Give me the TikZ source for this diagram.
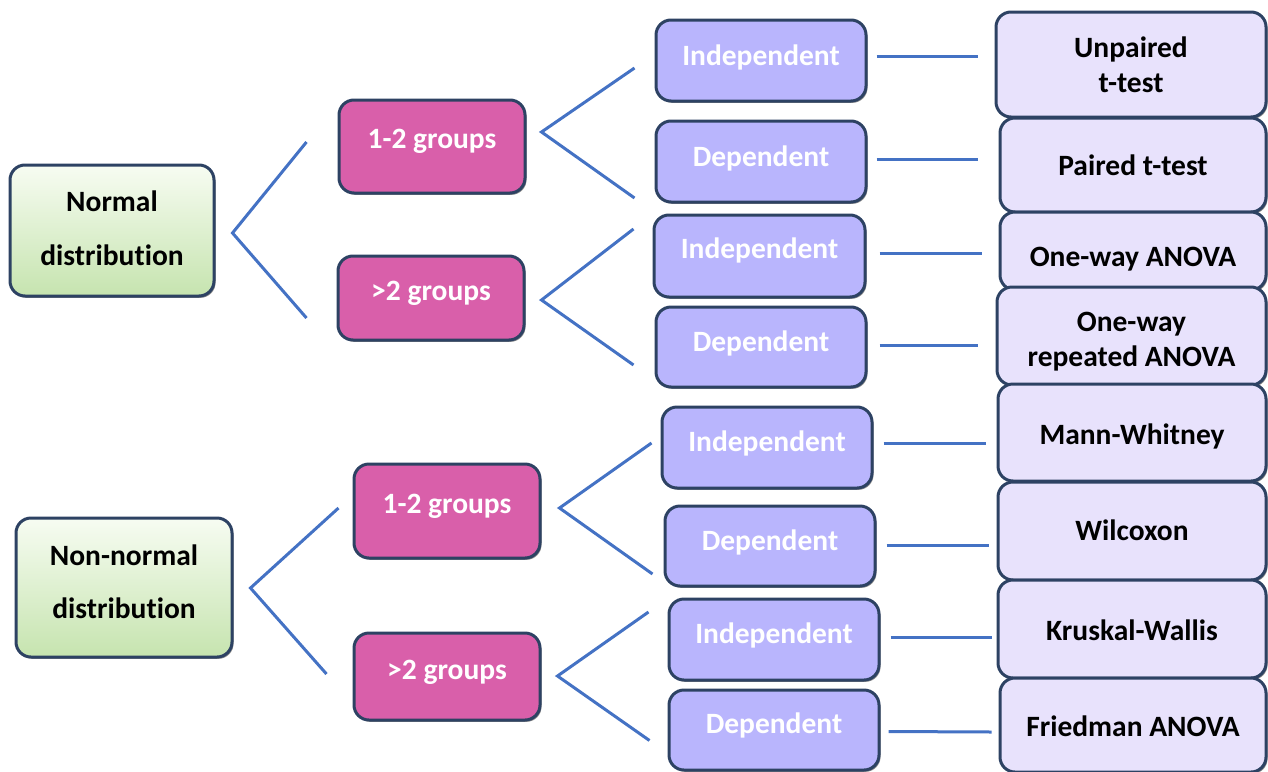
\documentclass[tikz,border=0pt]{standalone}
\usepackage{fontspec}
\setmainfont{Carlito}[Ligatures=NoCommon]
\usetikzlibrary{calc,shadows}
\definecolor{bordc}{HTML}{2D4263}
\definecolor{greentop}{HTML}{F7FCF2}
\definecolor{greenbot}{HTML}{C6E4AF}
\definecolor{pinkc}{HTML}{D95FAA}
\definecolor{purplec}{HTML}{B9B5FD}
\definecolor{lavc}{HTML}{E8E2FC}
\definecolor{linec}{HTML}{4472C4}
\tikzset{
  boxbase/.style={draw=bordc, line width=3pt, rounded corners=15pt, inner sep=0pt,
    drop shadow={shadow xshift=1.5pt, shadow yshift=-1.8pt, opacity=0.45, fill=black}},
  greenbox/.style={boxbase, top color=greentop, bottom color=greenbot},
  pinkbox/.style={boxbase, fill=pinkc},
  purplebox/.style={boxbase, fill=purplec},
  lavbox/.style={boxbase, fill=lavc},
  darktext/.style={anchor=base, inner sep=0pt, align=center, text=black,
    font=\fontsize{29.5}{35.5}\selectfont\bfseries},
  lighttext/.style={anchor=base, inner sep=0pt, align=center, text=white,
    font=\fontsize{29.5}{35.5}\selectfont\bfseries},
  link/.style={draw=linec, line width=3pt}
}
\begin{document}
\begin{tikzpicture}[x=1pt,y=-1pt]
\useasboundingbox (0,0) rectangle (1268,771);
% first column
\node[greenbox, minimum width=204pt, minimum height=131pt] (N) at (112,230.5) {};
\node[greenbox, minimum width=216pt, minimum height=139pt] (NN) at (124,587.5) {};
% second column
\node[pinkbox, minimum width=186pt, minimum height=93pt] (G1) at (432,146.5) {};
\node[pinkbox, minimum width=186pt, minimum height=84pt] (G2) at (431,298) {};
\node[pinkbox, minimum width=186pt, minimum height=94pt] (G3) at (447,511) {};
\node[pinkbox, minimum width=186pt, minimum height=87pt] (G4) at (447,676.5) {};
% third column
\node[purplebox, minimum width=210pt, minimum height=81pt] (P1) at (761,60.5) {};
\node[purplebox, minimum width=210pt, minimum height=81pt] (P2) at (761,161.5) {};
\node[purplebox, minimum width=211pt, minimum height=82pt] (P3) at (759.5,256) {};
\node[purplebox, minimum width=210pt, minimum height=80pt] (P4) at (761,347) {};
\node[purplebox, minimum width=210pt, minimum height=81pt] (P5) at (767,447.5) {};
\node[purplebox, minimum width=210pt, minimum height=80pt] (P6) at (770,546) {};
\node[purplebox, minimum width=210pt, minimum height=81pt] (P7) at (774,639.5) {};
\node[purplebox, minimum width=210pt, minimum height=80pt] (P8) at (774,730) {};
% fourth column
\node[lavbox, minimum width=270pt, minimum height=105pt] (R1) at (1131,64.5) {};
\node[lavbox, minimum width=266pt, minimum height=94pt] (R2) at (1133,165) {};
\node[lavbox, minimum width=266pt, minimum height=78pt] (R3) at (1133,251) {};
\node[lavbox, minimum width=269pt, minimum height=98pt] (R4) at (1131.5,336) {};
\node[lavbox, minimum width=268pt, minimum height=97pt] (R5) at (1132,432.5) {};
\node[lavbox, minimum width=268pt, minimum height=98pt] (R6) at (1132,531) {};
\node[lavbox, minimum width=268pt, minimum height=98pt] (R7) at (1132,629) {};
\node[lavbox, minimum width=266pt, minimum height=94pt] (R8) at (1133,725) {};
% texts (multi-line nodes: base = last line)
\node[darktext, font=\fontsize{29.5}{53.3}\selectfont\bfseries] (Nt) at (112,265) {Normal\\distribution};
\node[darktext, font=\fontsize{29.5}{53.3}\selectfont\bfseries] (NNt) at (124,618.3) {Non-normal\\distribution};
\node[lighttext] (G1t) at (432,148.3) {1-2 groups};
\node[lighttext] (G2t) at (431,300) {>2 groups};
\node[lighttext] (G3t) at (447,513) {1-2 groups};
\node[lighttext] (G4t) at (447,679) {>2 groups};
\node[lighttext] (P1t) at (761,65) {Independent};
\node[lighttext] (P2t) at (761,166) {Dependent};
\node[lighttext] (P3t) at (759.5,258) {Independent};
\node[lighttext] (P4t) at (761,351) {Dependent};
\node[lighttext] (P5t) at (767,451) {Independent};
\node[lighttext] (P6t) at (770,550) {Dependent};
\node[lighttext] (P7t) at (774,643.3) {Independent};
\node[lighttext] (P8t) at (774,733.3) {Dependent};
\node[darktext] (R1t) at (1131,92.5) {Unpaired\\t-test};
\node[darktext] (R2t) at (1133,175) {Paired t-test};
\node[darktext] (R3t) at (1133,266.7) {One-way ANOVA};
\node[darktext] (R4t) at (1131.5,366.7) {One-way\\repeated ANOVA};
\node[darktext] (R5t) at (1132,444) {Mann-Whitney};
\node[darktext] (R6t) at (1132,540.7) {Wilcoxon};
\node[darktext] (R7t) at (1132,640.7) {Kruskal-Wallis};
\node[darktext] (R8t) at (1133,736.7) {Friedman ANOVA};
% forks
\draw[link] ($(G1.west)+(-31,-4.5)$) -- ($(N.east)+(17,2.5)$) -- ($(G2.west)+(-30,20)$);
\draw[link] ($(P1.west)+(-20,7.5)$) -- ($(G1.east)+(15,-14.5)$) -- ($(P2.west)+(-20,36.5)$);
\draw[link] ($(P3.west)+(-19,-27)$) -- ($(G2.east)+(16,2)$) -- ($(P4.west)+(-21,18)$);
\draw[link] ($(G3.west)+(-14,-3)$) -- ($(NN.east)+(17,0.5)$) -- ($(G4.west)+(-26,-2.5)$);
\draw[link] ($(P5.west)+(-9,-4.5)$) -- ($(G3.east)+(18,-3)$) -- ($(P6.west)+(-11,28)$);
\draw[link] ($(P7.west)+(-19,-27.5)$) -- ($(G4.east)+(16,-0.5)$) -- ($(P8.west)+(-18,10.5)$);
% horizontal links
\draw[link] ($(P1.east)+(9,-4.5)$) -- ($(R1.west)+(-17,-8.5)$);
\draw[link] ($(P2.east)+(9,-2.5)$) -- ($(R2.west)+(-21,-6)$);
\draw[link] ($(P3.east)+(13,-3)$) -- ($(R3.west)+(-17,2)$);
\draw[link] ($(P4.east)+(12,-2)$) -- ($(R4.west)+(-18,9)$);
\draw[link] ($(P5.east)+(10,-4.5)$) -- ($(R5.west)+(-11,10.5)$);
\draw[link] ($(P6.east)+(10,-1)$) -- ($(R6.west)+(-8,14)$);
\draw[link] ($(P7.east)+(10,-2.5)$) -- ($(R7.west)+(-5,8)$);
\draw[link] ($(P8.east)+(8,1.5)$) -- ($(R8.west)+(-7,7)$);
\end{tikzpicture}
\end{document}
